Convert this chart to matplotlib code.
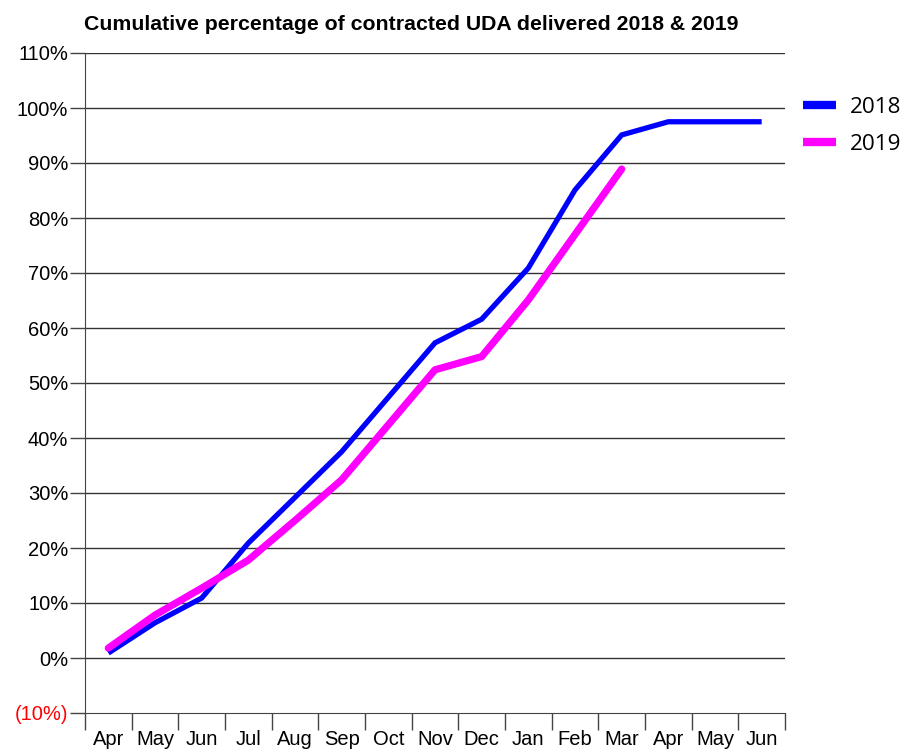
import matplotlib
matplotlib.use("Agg")
import matplotlib.pyplot as plt
import numpy as np

months = ["Apr", "May", "Jun", "Jul", "Aug", "Sep", "Oct", "Nov", "Dec",
          "Jan", "Feb", "Mar", "Apr", "May", "Jun"]
pct_2018 = [0.9, 6.4, 10.9, 20.9, 29.2, 37.5, 47.4, 57.3, 61.6,
            70.9, 85.1, 95.1, 97.5, 97.5, 97.5]
pct_2019 = [1.8, 7.8, 12.7, 17.8, 25.0, 32.4, 42.4, 52.4, 54.8,
            65.1, 77.0, 88.9]
y_ticks = list(range(-10, 111, 10))
title = "Cumulative percentage of contracted UDA delivered 2018 & 2019"

W, H = 903, 749
fig = plt.figure(figsize=(W / 100, H / 100), dpi=100)
ax = fig.add_axes([85 / W, (H - 713) / H, 700 / W, 660 / H])

x18 = np.arange(len(pct_2018)) + 0.5
x19 = np.arange(len(pct_2019)) + 0.5
ax.plot(x18, pct_2018, color="#0000ff", lw=3.8, solid_capstyle="butt",
        solid_joinstyle="miter", label="2018", zorder=3)
ax.plot(x19, pct_2019, color="#ff00ff", lw=5.2, solid_capstyle="round",
        solid_joinstyle="round", label="2019", zorder=3)

ax.set_xlim(0, len(months))
ax.set_ylim(-10, 110)
for v in y_ticks:
    if v > -10:
        ax.axhline(v, color="#333333", lw=1.0, zorder=1)

ax.set_yticks(y_ticks)
ylabels = ["(10%)" if v < 0 else f"{v}%" for v in y_ticks]
ax.set_yticklabels(ylabels, fontsize=14.5, family="Liberation Sans")
ax.get_yticklabels()[0].set_color("red")
ax.tick_params(axis="y", length=11, width=1, color="#444444", pad=1)

ax.set_xticks(np.arange(len(months) + 1))
ax.set_xticklabels([])
ax.set_xticks(np.arange(len(months)) + 0.5, minor=True)
ax.set_xticklabels(months, minor=True, fontsize=14.5, family="Liberation Sans")
ax.tick_params(axis="x", which="major", length=12, width=1, color="#444444")
ax.tick_params(axis="x", which="minor", length=0, pad=12)

for s in ["top", "right"]:
    ax.spines[s].set_visible(False)
ax.spines["left"].set_color("#444444")
ax.spines["bottom"].set_color("#444444")

fig.text(411 / W, 1 - 25 / H, title, ha="center", va="center",
         fontsize=15.3, fontweight="bold", family="Liberation Sans")

leg = fig.legend(loc="upper left", bbox_to_anchor=(796 / W, 1 - 90 / H),
                 frameon=False, prop={"family": "Open Sans", "size": 16.2},
                 handlelength=1.5, handletextpad=0.6, labelspacing=0.72,
                 borderaxespad=0, borderpad=0.3)
for line in leg.get_lines():
    line.set_linewidth(6)
    line.set_solid_capstyle("butt")

fig.savefig("out.png", dpi=100)
